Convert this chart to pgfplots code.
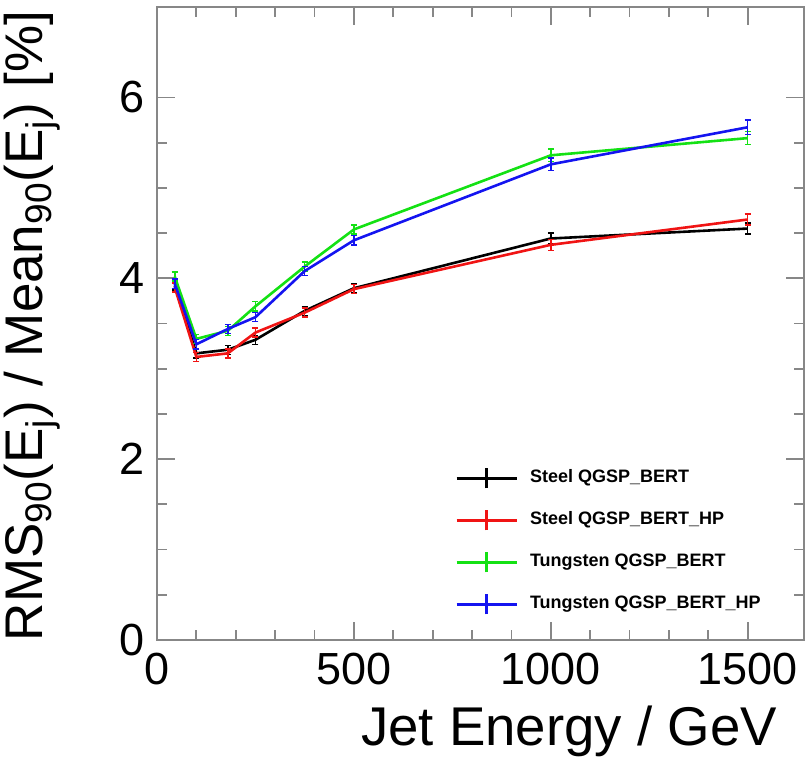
\documentclass[border=0pt]{standalone}
\usepackage{pgfplots}
\pgfplotsset{compat=1.18}
\usepackage{fontspec}
\setmainfont{Liberation Sans}

\definecolor{frame}{RGB}{135,135,135}
\definecolor{rootred}{RGB}{240,20,20}
\definecolor{rootgreen}{RGB}{20,225,20}
\definecolor{rootblue}{RGB}{20,20,240}

% jet energy [GeV], RMS90/Mean90 [%], error
\pgfplotstableread{
x    y     e
45   3.92  0.05
100  3.17  0.05
180  3.21  0.05
250  3.32  0.05
375  3.64  0.05
500  3.89  0.05
1000 4.44  0.06
1500 4.55  0.06
}\steelbert
\pgfplotstableread{
x    y     e
45   3.90  0.05
100  3.13  0.05
180  3.17  0.05
250  3.40  0.05
375  3.62  0.05
500  3.88  0.05
1000 4.37  0.06
1500 4.65  0.06
}\steelhp
\pgfplotstableread{
x    y     e
45   4.02  0.05
100  3.33  0.05
180  3.42  0.05
250  3.69  0.05
375  4.13  0.05
500  4.54  0.05
1000 5.36  0.07
1500 5.55  0.07
}\tungbert
\pgfplotstableread{
x    y     e
45   3.94  0.05
100  3.27  0.05
180  3.44  0.05
250  3.57  0.05
375  4.08  0.05
500  4.42  0.05
1000 5.26  0.07
1500 5.67  0.08
}\tunghp

\begin{document}
\begin{tikzpicture}
\begin{axis}[
  scale only axis,
  width=323.5pt, height=316.5pt,
  xmin=0, xmax=1643, ymin=0, ymax=7,
  xtick={0,500,1000,1500}, minor x tick num=4,
  ytick={0,2,4,6}, minor y tick num=3,
  tick align=inside,
  major tick length=9pt, minor tick length=5pt,
  axis line style={frame, line width=1pt},
  every tick/.style={frame, line width=0.9pt},
  /pgf/number format/assume math mode=true,
  /pgf/number format/set thousands separator={},
  ticklabel style={font=\fontsize{22.5}{24}\selectfont},
  yticklabel style={xshift=-2.5pt},
  xticklabel style={yshift=-3pt},
  xlabel={Jet Energy / GeV},
  xlabel style={font=\fontsize{27.3}{30}\selectfont, at={(rel axis cs:1,0)},
    anchor=base east, xshift=-10pt, yshift=-52.5pt},
  legend cell align=left,
  legend image code/.code={
    \draw[#1] (0pt,0pt) -- (30pt,0pt);
    \draw[#1] (15pt,-5pt) -- (15pt,5pt);},
  legend style={draw=none, fill=none, inner sep=0pt,
    at={(rel axis cs:0.4606,0.274)}, anchor=north west,
    font=\fontsize{9}{10}\selectfont\bfseries,
    row sep=9.7pt, column sep=6pt,
    nodes={inner sep=0pt, text height=7pt, text depth=3pt}},
  every axis plot/.append style={line width=1.3pt, no marks,
    error bars/y dir=both, error bars/y explicit,
    error bars/error mark options={rotate=90, mark size=1.5pt, line width=0.7pt},
    error bars/error bar style={line width=0.8pt}},
]
\addplot[black] table[x=x, y=y, y error=e] {\steelbert};
\addlegendentry{Steel QGSP\_BERT}
\addplot[rootred] table[x=x, y=y, y error=e] {\steelhp};
\addlegendentry{Steel QGSP\_BERT\_HP}
\addplot[rootgreen] table[x=x, y=y, y error=e] {\tungbert};
\addlegendentry{Tungsten QGSP\_BERT}
\addplot[rootblue] table[x=x, y=y, y error=e] {\tunghp};
\addlegendentry{Tungsten QGSP\_BERT\_HP}
\coordinate (sw) at (rel axis cs:0,0);
\coordinate (ne) at (rel axis cs:1,1);
\coordinate (tl) at (rel axis cs:0,1);
\end{axis}
\node[rotate=90, anchor=base east, font=\fontsize{26.5}{29}\selectfont]
  at ([xshift=-57pt, yshift=1.5pt]tl)
  {RMS\textsubscript{90}(E\textsubscript{j}) / Mean\textsubscript{90}(E\textsubscript{j}) [\%]};
\pgfresetboundingbox
\path[use as bounding box] ([shift={(-78.5pt,-59.5pt)}]sw) rectangle ([shift={(2pt,3.5pt)}]ne);
\end{tikzpicture}
\end{document}
